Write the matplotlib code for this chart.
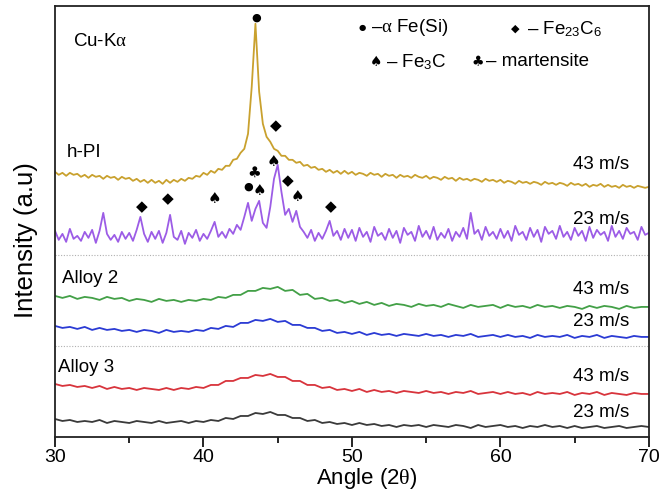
import numpy as np
import matplotlib
matplotlib.use("Agg")
import matplotlib.pyplot as plt

plt.rcParams['font.family'] = ['Liberation Sans', 'DejaVu Sans']
plt.rcParams['mathtext.fontset'] = 'custom'
plt.rcParams['mathtext.rm'] = 'Liberation Sans'
plt.rcParams['mathtext.it'] = 'Liberation Serif'

# h-PI traces, 0.25 deg steps from 30 to 70 (intensity, offset stacked)
hpi_43 = [265, 262, 264, 261, 264, 262, 263, 260, 262, 259, 262, 260, 261, 258, 261, 259, 260, 257, 260, 258,
          259, 256, 258, 255, 257, 254, 257, 254, 256, 253, 257, 254, 257, 255, 258, 256, 259, 258, 261, 260,
          264, 262, 266, 264, 268, 267, 271, 271, 277, 278, 284, 288, 303, 350, 413, 345, 313, 300, 295, 288,
          286, 281, 281, 277, 277, 274, 275, 271, 272, 269, 270, 267, 268, 265, 267, 264, 266, 263, 266, 263,
          265, 262, 264, 263, 261, 264, 262, 263, 260, 263, 261, 262, 259, 262, 260, 261, 259, 262, 260, 259,
          261, 258, 260, 259, 257, 260, 258, 259, 256, 259, 257, 258, 256, 258, 257, 255, 258, 256, 257, 255,
          257, 254, 256, 255, 253, 256, 254, 255, 253, 255, 254, 252, 255, 253, 254, 252, 254, 253, 251, 254,
          252, 253, 251, 253, 250, 252, 251, 253, 250, 252, 250, 251, 249, 252, 250, 251, 249, 251, 250, 249,
          250]
hpi_23 = [206, 197, 203, 195, 208, 198, 201, 196, 205, 199, 207, 194, 206, 224, 203, 197, 202, 195, 205, 198,
          204, 196, 207, 220, 203, 195, 205, 198, 206, 194, 204, 222, 200, 197, 206, 193, 204, 199, 207, 196,
          203, 198, 206, 215, 200, 205, 199, 208, 203, 212, 207, 220, 234, 216, 228, 236, 214, 209, 230, 258,
          272, 245, 222, 228, 215, 226, 210, 205, 199, 207, 196, 204, 198, 206, 216, 201, 206, 197, 208, 199,
          207, 196, 209, 200, 205, 195, 210, 201, 204, 197, 208, 199, 206, 194, 209, 202, 205, 196, 211, 200,
          206, 198, 210, 197, 204, 199, 208, 196, 205, 200, 209, 198, 224, 203, 207, 197, 210, 201, 205, 198,
          208, 199, 206, 196, 211, 202, 205, 197, 209, 200, 207, 195, 210, 203, 206, 198, 211, 200, 205, 197,
          209, 201, 206, 196, 210, 199, 207, 202, 205, 196, 211, 200, 206, 198, 209, 203, 205, 197, 210, 202,
          204]

# Alloy traces, 0.5 deg steps from 30 to 70
alloy2_43 = [141, 139, 141, 138, 140, 139, 137, 140, 138, 139,
             136, 138, 137, 135, 138, 136, 137, 135, 137, 136,
             138, 137, 140, 139, 142, 142, 146, 146, 149, 148,
             150, 146, 147, 142, 143, 138, 139, 136, 137, 134,
             136, 133, 135, 132, 134, 131, 133, 132, 130, 133,
             131, 132, 130, 133, 131, 129, 132, 130, 131, 132,
             129, 132, 130, 131, 129, 132, 130, 131, 129, 131,
             130, 128, 131, 129, 131, 130, 128, 131, 129, 130,
             130]
alloy2_23 = [111, 109, 110, 108, 110, 107, 109, 107, 108, 106,
             107, 105, 107, 106, 104, 107, 105, 106, 105, 107,
             106, 109, 108, 111, 110, 114, 114, 117, 116, 118,
             115, 116, 112, 112, 109, 109, 106, 107, 104, 105,
             103, 105, 102, 104, 102, 103, 101, 103, 102, 101,
             103, 101, 102, 100, 102, 101, 103, 100, 101, 102,
             100, 102, 100, 101, 99, 102, 100, 101, 100, 102,
             99, 101, 100, 102, 99, 101, 100, 99, 101, 100,
             100]
alloy3_43 = [53, 51, 52, 50, 51, 49, 51, 48, 50, 48,
             49, 47, 49, 48, 47, 49, 47, 49, 48, 50,
             49, 52, 52, 56, 56, 59, 59, 62, 61, 63,
             60, 60, 56, 56, 52, 52, 49, 50, 47, 48,
             46, 48, 45, 47, 45, 46, 44, 46, 45, 44,
             46, 44, 45, 43, 45, 44, 46, 43, 44, 45,
             43, 45, 43, 44, 42, 45, 43, 44, 43, 45,
             42, 44, 43, 45, 42, 44, 43, 42, 44, 43,
             43]
alloy3_23 = [18, 16, 17, 15, 16, 15, 17, 14, 16, 15,
             14, 16, 15, 14, 16, 14, 15, 16, 14, 16,
             15, 17, 16, 19, 18, 21, 21, 24, 23, 25,
             22, 22, 19, 19, 16, 17, 14, 15, 13, 14,
             12, 14, 12, 13, 11, 12, 10, 12, 11, 12,
             10, 12, 11, 10, 12, 11, 9, 12, 10, 11,
             12, 10, 11, 9, 11, 10, 12, 10, 11, 9,
             11, 9, 10, 11, 9, 10, 11, 9, 10, 11,
             10]

# phase marks: angle, height, symbol
peak_angle = [43.54, 44.88, 44.68, 43.40, 43.00, 43.80, 45.69, 46.30, 48.59, 40.71, 37.60, 35.86]
peak_height = [419, 311, 275, 265, 250, 246, 256, 240, 230, 238, 238, 230]
peak_symbol = ['●', '◆', '♠', '♣', '●', '♠', '◆', '♠', '◆', '♠', '◆', '◆']

speed_labels = ['43 m/s', '23 m/s', '43 m/s', '23 m/s', '43 m/s', '23 m/s']
speed_label_y = [272, 217, 147, 115, 60, 24]

fig = plt.figure(figsize=(6.71, 4.94), dpi=100)
ax = fig.add_axes([0.082, 0.1154, 0.885, 0.873])

traces = [(hpi_43, '#C9A12E'), (hpi_23, '#9C5CE6'), (alloy2_43, '#43A047'),
          (alloy2_23, '#2B3BD4'), (alloy3_43, '#D8343C'), (alloy3_23, '#3A3A3A')]
for vals, col in traces:
    ang = np.linspace(30, 70, len(vals))
    ax.plot(ang, vals, color=col, lw=1.3)

for yy in [182, 91]:
    ax.axhline(yy, color='#b0b0b0', ls=(0, (1, 1.5)), lw=0.8)

for a, h, s in zip(peak_angle, peak_height, peak_symbol):
    fs = 8 if s == '●' else 11
    ax.text(a, h, s, ha='center', va='center', fontsize=fs, family=['DejaVu Sans'])

for lab, yy in zip(speed_labels, speed_label_y):
    ax.text(68.7, yy, lab, ha='right', va='center', fontsize=13.5)

ax.text(31.2, 395, r'Cu-K$\alpha$', va='center', fontsize=13.5)
ax.text(30.8, 284, 'h-PI', va='center', fontsize=13.5)
ax.text(30.45, 158, 'Alloy 2', va='center', fontsize=13.5)
ax.text(30.2, 69, 'Alloy 3', va='center', fontsize=13.5)

# legend for phase symbols
ax.text(50.67, 409, '●', ha='center', va='center', fontsize=6, family=['DejaVu Sans'])
ax.text(51.3, 409, r'–$\alpha$ Fe(Si)', va='center', fontsize=13.5)
ax.text(60.98, 408, '◆', ha='center', va='center', fontsize=8, family=['DejaVu Sans'])
ax.text(61.8, 408, r'– Fe$_{23}$C$_6$', va='center', fontsize=13.5)
ax.text(51.62, 375, '♠', ha='center', va='center', fontsize=10, family=['DejaVu Sans'])
ax.text(52.3, 375, r'– Fe$_3$C', va='center', fontsize=13.5)
ax.text(58.48, 375, '♣', ha='center', va='center', fontsize=10, family=['DejaVu Sans'])
ax.text(59.05, 375, '– martensite', va='center', fontsize=13.5)

ax.set_xlim(30, 70)
ax.set_ylim(0, 431)
ax.set_xticks([30, 40, 50, 60, 70])
ax.set_xticks([35, 45, 55, 65], minor=True)
ax.tick_params(axis='x', which='major', direction='out', length=7, width=1.2, labelsize=14, pad=2)
ax.tick_params(axis='x', which='minor', direction='out', length=4, width=1.2)
ax.tick_params(axis='y', left=False, labelleft=False)
for sp in ax.spines.values():
    sp.set_linewidth(1.3)
    sp.set_color('#222222')
ax.set_xlabel(r'Angle (2$\theta$)', fontsize=16, labelpad=0, x=0.525)
ax.set_ylabel('Intensity (a.u)', fontsize=18.5, labelpad=12, y=0.456)

fig.savefig('out.png', dpi=100)
